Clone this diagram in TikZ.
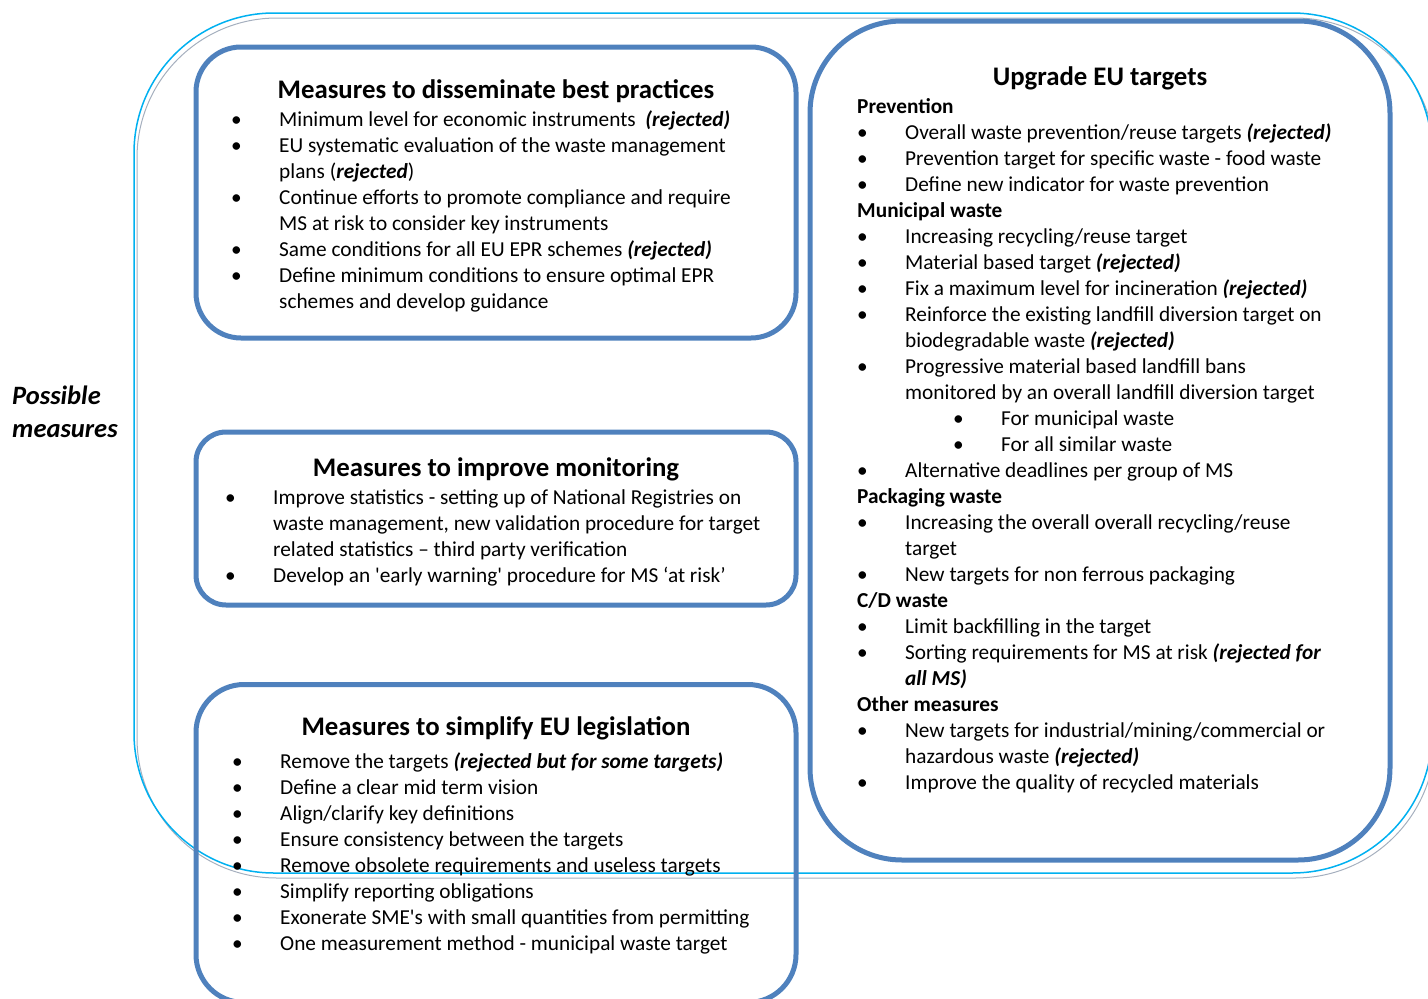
\documentclass[tikz,border=0pt]{standalone}
\usepackage{fontspec}
\setmainfont{Carlito}
\usetikzlibrary{positioning}
\definecolor{boxblue}{RGB}{79,129,189}
\definecolor{framecyan}{RGB}{0,176,240}
\definecolor{frameshade}{RGB}{165,175,190}
\newcommand{\BodyFont}{\fontsize{21.3}{26}\selectfont}
\newcommand{\bul}{\makebox[48pt][l]{\textbullet}}
\newcommand{\cnt}{\hspace*{48pt}}
\newcommand{\rej}[1]{\textbf{\textit{#1}}}
\tikzset{
  measurebox/.style={draw=boxblue, line width=5pt, inner sep=0pt},
  boxtitle/.style={font=\fontsize{26.8}{30}\selectfont\bfseries, anchor=base, inner sep=0pt},
  itemlist/.style={font=\BodyFont, align=left, anchor=base west, inner sep=0pt},
}
\begin{document}
\begin{tikzpicture}[x=1pt,y=-1pt]
\useasboundingbox (0,0) rectangle (1428,999);
% outer frame with its shade
\draw[frameshade, line width=1pt, rounded corners=140pt] (137,18) rectangle (1435,878);
\draw[framecyan, line width=1.5pt, rounded corners=140pt] (134,13) rectangle (1432,873);
% lists are anchored at the baseline of their last line
\node[font=\fontsize{26.5}{33}\selectfont\bfseries\itshape, align=left, anchor=base west, inner sep=0pt] (possible) at (12,437) {Possible\\ measures};

% the four boxes
\node[measurebox, rounded corners=45pt, minimum width=600pt, minimum height=291pt] (dissem) at (496,192.5) {};
\node[measurebox, rounded corners=30pt, minimum width=600pt, minimum height=173pt] (monitor) at (496,518.5) {};
\node[measurebox, rounded corners=48pt, minimum width=600pt, minimum height=318pt] (simplify) at (496,843.5) {};
\node[measurebox, rounded corners=92pt, minimum width=580pt, minimum height=839pt] (upgrade) at (1100,440.5) {};

% best practices
\node[boxtitle] (dissemtitle) at (496,98) {Measures to disseminate best practices};
\node[itemlist] (dissemlist) at (231,308) {%
\bul Minimum level for economic instruments~~\rej{(rejected)}\\
\bul EU systematic evaluation of the waste management\\
\cnt plans (\rej{rejected})\\
\bul Continue efforts to promote compliance and require\\
\cnt MS at risk to consider key instruments\\
\bul Same conditions for all EU EPR schemes \rej{(rejected)}\\
\bul Define minimum conditions to ensure optimal EPR\\
\cnt schemes and develop guidance};

% monitoring
\node[boxtitle] (monitortitle) at (496,476) {Measures to improve monitoring};
\node[itemlist] (monitorlist) at (225,582) {%
\bul Improve statistics - setting up of National Registries on\\
\cnt waste management, new validation procedure for target\\
\cnt related statistics – third party verification\\
\bul Develop an \textquotesingle early warning\textquotesingle{} procedure for MS ‘at risk’};

% legislation
\node[boxtitle] (simplifytitle) at (496,735) {Measures to simplify EU legislation};
\node[itemlist] (simplifylist) at (232,950) {%
\bul Remove the targets \rej{(rejected but for some targets)}\\
\bul Define a clear mid term vision\\
\bul Align/clarify key definitions\\
\bul Ensure consistency between the targets\\
\bul Remove obsolete requirements and useless targets\\
\bul Simplify reporting obligations\\
\bul Exonerate SME\textquotesingle s with small quantities from permitting\\
\bul One measurement method - municipal waste target};

% EU targets
\node[boxtitle] (upgradetitle) at (1100,85) {Upgrade EU targets};
\node[itemlist] (upgradelist) at (857,789) {%
\textbf{Prevention}\\
\bul Overall waste prevention/reuse targets \rej{(rejected)}\\
\bul Prevention target for specific waste - food waste\\
\bul Define new indicator for waste prevention\\
\textbf{Municipal waste}\\
\bul Increasing recycling/reuse target\\
\bul Material based target \rej{(rejected)}\\
\bul Fix a maximum level for incineration \rej{(rejected)}\\
\bul Reinforce the existing landfill diversion target on\\
\cnt biodegradable waste \rej{(rejected)}\\
\bul Progressive material based landfill bans\\
\cnt monitored by an overall landfill diversion target\\
\cnt\cnt\bul For municipal waste\\
\cnt\cnt\bul For all similar waste\\
\bul Alternative deadlines per group of MS\\
\textbf{Packaging waste}\\
\bul Increasing the overall overall recycling/reuse\\
\cnt target\\
\bul New targets for non ferrous packaging\\
\textbf{C/D waste}\\
\bul Limit backfilling in the target\\
\bul Sorting requirements for MS at risk \rej{(rejected for}\\
\cnt\rej{all MS)}\\
\textbf{Other measures}\\
\bul New targets for industrial/mining/commercial or\\
\cnt hazardous waste \rej{(rejected)}\\
\bul Improve the quality of recycled materials};
\end{tikzpicture}
\end{document}
